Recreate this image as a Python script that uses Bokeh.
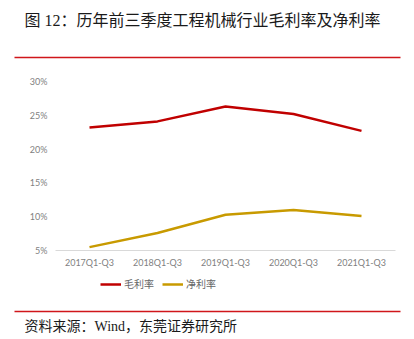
from bokeh.plotting import figure
from bokeh.models import (Range1d, FactorRange, FixedTicker, PrintfTickFormatter,
                          Legend, LegendItem, ColumnDataSource)
from bokeh.core.properties import value
from bokeh.embed import file_html
from bokeh.resources import INLINE

# ---- data ----
categories = ["2017Q1-Q3", "2018Q1-Q3", "2019Q1-Q3", "2020Q1-Q3", "2021Q1-Q3"]
gross_margin = [23.2, 24.1, 26.3, 25.2, 22.7]   # 毛利率 (%)
net_margin = [5.5, 7.6, 10.3, 11.0, 10.1]       # 净利率 (%)
y_ticks = [5, 10, 15, 20, 25, 30]
series_names = ["毛利率", "净利率"]
series_colors = ["#c00000", "#c89a00"]

title_text = "图 12：历年前三季度工程机械行业毛利率及净利率"
source_text = "资料来源：Wind，东莞证券研究所"

W = 414
CJK = "'Liberation Serif', 'Noto Sans CJK SC'"
RED_RULE = "#d0161b"

def blank(h):
    f = figure(width=W, height=h, x_range=Range1d(0, W), y_range=Range1d(h, 0),
               output_backend="svg", toolbar_location=None,
               x_axis_location=None, y_axis_location=None,
               min_border=0, outline_line_color=None)
    f.grid.visible = False
    return f

# header
top = blank(62)
top.text(x=[24], y=[20], text=[title_text], text_baseline="middle", text_align="left",
         text_font=value(CJK), text_font_size="16px", text_color="#1a1a1a")
top.segment(x0=[14], y0=[57], x1=[400], y1=[57], line_color=RED_RULE, line_width=1.5)

# chart
p = figure(width=W, height=208, x_range=FactorRange(*categories), y_range=Range1d(5, 30),
           output_backend="svg", toolbar_location=None,
           min_border_left=55, min_border_right=19, min_border_top=19, min_border_bottom=20,
           outline_line_color=None)
p.grid.visible = False

src = ColumnDataSource(dict(cat=categories, gm=gross_margin, nm=net_margin))
p.line("cat", "gm", source=src, line_color=series_colors[0], line_width=2.5)
p.line("cat", "nm", source=src, line_color=series_colors[1], line_width=2.5)

tick_font = "Lato"
for ax in (p.xaxis, p.yaxis):
    ax.major_tick_line_color = None
    ax.minor_tick_line_color = None
    ax.major_tick_out = 0
    ax.major_tick_in = 0
    ax.minor_tick_out = 0
    ax.minor_tick_in = 0
    ax.major_label_text_font = tick_font
    ax.major_label_text_font_size = "9px"
    ax.major_label_text_color = "#7f7f7f"
    ax.major_label_standoff = 8

p.xaxis.major_label_standoff = 6
p.xaxis.axis_line_color = "#d9d9d9"
p.yaxis.axis_line_color = None
p.yaxis.ticker = FixedTicker(ticks=y_ticks)
p.yaxis.formatter = PrintfTickFormatter(format="%d%%")

# legend strip
lg = figure(width=W, height=38, x_range=Range1d(0, 1), y_range=Range1d(0, 1),
            output_backend="svg", toolbar_location=None,
            x_axis_location=None, y_axis_location=None,
            min_border=0, outline_line_color=None)
lg.grid.visible = False
items = []
for name, col in zip(series_names, series_colors):
    rr = lg.line(x=[-5, -4], y=[-5, -5], line_color=col, line_width=2.5)
    items.append(LegendItem(label=name, renderers=[rr]))
legend = Legend(items=items, orientation="horizontal", location=(100, 17),
                glyph_width=21, glyph_height=12, label_standoff=3, spacing=8,
                padding=0, margin=0, border_line_color=None, background_fill_alpha=0,
                label_text_font="Noto Sans CJK SC", label_text_font_size="10px",
                label_text_color="#666666")
lg.add_layout(legend, "center")

# footer
bot = blank(31)
bot.segment(x0=[14], y0=[3], x1=[400], y1=[3], line_color=RED_RULE, line_width=1.5)
bot.text(x=[24], y=[18], text=[source_text], text_baseline="middle", text_align="left",
         text_font=value(CJK), text_font_size="14px", text_color="#1a1a1a")

open("out.html", "w").write(file_html([top, p, lg, bot], INLINE))
